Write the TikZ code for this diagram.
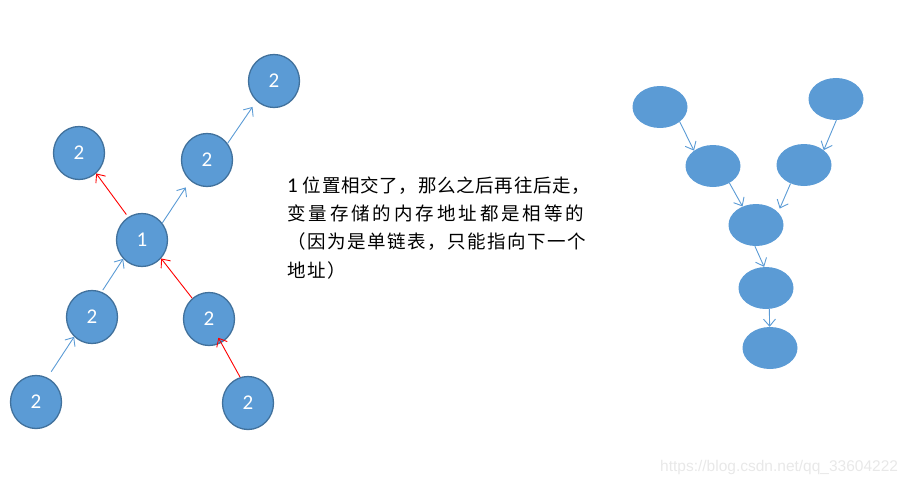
\documentclass[tikz,border=0pt]{standalone}
\usepackage{fontspec}
\setmainfont{Carlito}
\newfontfamily\cjk{Noto Sans CJK SC}
\newfontfamily\wmfont{Liberation Sans}
\usetikzlibrary{arrows.meta,shapes.geometric}
\definecolor{nodefill}{HTML}{5B9BD5}
\definecolor{nodeedge}{HTML}{41719C}
\definecolor{arrblue}{HTML}{5B9BD5}
\definecolor{wmgray}{HTML}{E8E8E8}
\newcount\mycc
\mycc="4E00
\loop\ifnum\mycc<"A000 \XeTeXcharclass\mycc=7 \advance\mycc by 1 \repeat
\XeTeXcharclass"FF08=7
\XeTeXcharclass"FF09=7
\XeTeXcharclass"FF0C=7
\XeTeXinterchartokenstate=1
\XeTeXinterchartoks 7 7 = {\hskip 0pt plus 1fil}
\tikzset{
  circnode/.style={ellipse, fill=nodefill, draw=nodeedge, line width=1.3pt,
    minimum width=51pt, minimum height=53pt, inner sep=0pt, text=white,
    font=\fontsize{21}{24}\selectfont},
  ovalnode/.style={ellipse, fill=nodefill, minimum width=55pt, minimum height=42pt, inner sep=0pt},
  barrow/.style={draw=arrblue, line width=0.9pt, -{Straight Barb[length=7pt,width=12pt]}},
  rarrow/.style={draw=red, line width=0.9pt, -{Straight Barb[length=7pt,width=12pt]}},
  txtline/.style={anchor=base west, inner sep=0pt, font=\fontsize{18.5}{22}\selectfont},
}
\begin{document}
\begin{tikzpicture}[x=1pt,y=-1pt]
\useasboundingbox (0,0) rectangle (913,487);
% left tree
\node[circnode] (A) at (36,402) {2};
\node[circnode] (B) at (92,317) {2};
\node[circnode] (C) at (142,240) {1};
\node[circnode] (D) at (207,160) {2};
\node[circnode] (E) at (274,81) {2};
\node[circnode] (F) at (79,153) {2};
\node[circnode] (G) at (209,319) {2};
\node[circnode] (H) at (248,403) {2};
\draw[barrow, shorten <=7pt] (A.65) -- (B.228);
\draw[barrow, shorten <=2pt] (B.69) -- (C.225);
\draw[barrow, shorten >=8pt] (C.40) -- (D.231);
\draw[barrow, shorten >=7pt] (D.39) -- (E.229);
\draw[rarrow, shorten <=3pt] (C.121) -- (F.310);
\draw[rarrow] (G.129) -- (C.316);
\draw[rarrow, shorten >=-6pt] (H.107) -- (G.297);
% text
\node[txtline] (t1) at (287,192) {\hbox to 303pt{{\fontsize{21}{22}\selectfont 1}\hskip 5pt{\cjk 位置相交了，那么之后再往后走，}}};
\node[txtline] (t2) at (287,220.4) {\hbox to 297pt{\cjk 变量存储的内存地址都是相等的}};
\node[txtline] (t3) at (287,248.8) {\hbox to 299pt{\cjk （因为是单链表，只能指向下一个}};
\node[txtline] (t4) at (287,277.2) {\hbox to 59pt{\cjk 地址）}};
% right Y
\node[ovalnode] (e1) at (660,107) {};
\node[ovalnode] (e2) at (836,99) {};
\node[ovalnode] (e3) at (713,166) {};
\node[ovalnode] (e4) at (804,165) {};
\node[ovalnode] (e5) at (756,225) {};
\node[ovalnode] (e6) at (766,288) {};
\node[ovalnode] (e7) at (770,348) {};
\draw[barrow] (e1.323) -- (e3.141);
\draw[barrow] (e2.271) -- (e4.37);
\draw[barrow] (e3.314) -- (e5.126);
\draw[barrow, shorten >=4pt] (e4.234) -- (e5.30);
\draw[barrow] (e5.267) -- (e6.95);
\draw[barrow] (e6.279) -- (e7.91);
% watermark
\node[anchor=west, inner sep=0pt, text=wmgray, font=\wmfont\fontsize{15.5}{17}\selectfont] (wm) at (660,467) {https://blog.csdn.net/qq\_33604222};
\end{tikzpicture}
\end{document}
